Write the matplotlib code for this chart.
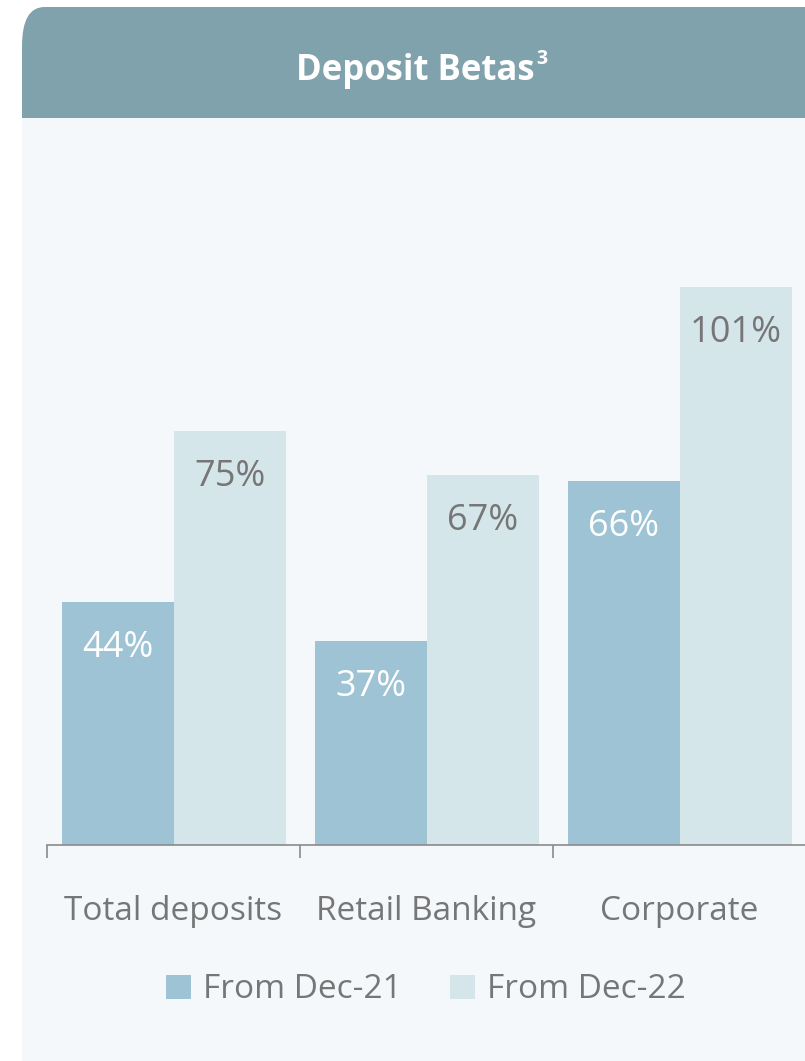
import matplotlib
matplotlib.use("Agg")
import matplotlib.pyplot as plt
from matplotlib.patches import FancyBboxPatch, Rectangle, Patch
import numpy as np

# ---- data ----
categories = ["Total deposits", "Retail Banking", "Corporate"]
series_names = ["From Dec-21", "From Dec-22"]
from_dec21 = [44, 37, 66]
from_dec22 = [75, 67, 101]
title = "Deposit Betas"
title_sup = "3"

# ---- style ----
W, H = 805, 1061
HEADER_C = "#80A2AC"
BODY_C = "#F4F8FB"
DARK_C = "#9DC3D4"
LIGHT_C = "#D5E6EB"
TEXT_C = "#767676"
AXIS_C = "#8A8A8A"
FONT = ["Open Sans", "DejaVu Sans"]
plt.rcParams["font.family"] = FONT

fig = plt.figure(figsize=(W / 100, H / 100), dpi=100)
fig.patch.set_facecolor("white")

def fx(px):
    return px / W

def fy(py):
    return 1 - py / H

# panel header (rounded top) and body
header = FancyBboxPatch((fx(22), fy(160)), fx(900) - fx(22), fy(7) - fy(160),
                        boxstyle="round,pad=0,rounding_size=0.028",
                        transform=fig.transFigure, facecolor=HEADER_C,
                        edgecolor="none", zorder=-10, mutation_aspect=H / W)
fig.patches.append(header)
body = Rectangle((fx(22), fy(1200)), fx(900) - fx(22), fy(118) - fy(1200),
                 transform=fig.transFigure, facecolor=BODY_C,
                 edgecolor="none", zorder=-9)
fig.patches.append(body)

# title
t = fig.text(fx(296), fy(80), title, color="white",
             fontsize=25, fontweight="bold", ha="left", va="baseline")
fig.canvas.draw()
bb = t.get_window_extent()
fig.text(bb.x1 / W + fx(2), fy(64), title_sup, color="white",
         fontsize=14, fontweight="bold", ha="left", va="baseline")

# axes
ax_top_px = 150
ax_bottom_px = 845
px_per_unit = 5.52
ax = fig.add_axes([fx(47), fy(ax_bottom_px), (806 - 47) / W,
                   (ax_bottom_px - ax_top_px) / H])
ax.set_facecolor("none")
ax.set_xlim(-0.5, len(categories) - 0.5)
ax.set_ylim(0, (ax_bottom_px - ax_top_px) / px_per_unit)

x = np.arange(len(categories))
bw = 112 / 253
b1 = ax.bar(x - bw / 2, from_dec21, width=bw, color=DARK_C, linewidth=0, zorder=2)
b2 = ax.bar(x + bw / 2, from_dec22, width=bw, color=LIGHT_C, linewidth=0, zorder=2)

off = -55 * 72 / 100
for bars, vals, col in ((b1, from_dec21, "white"), (b2, from_dec22, TEXT_C)):
    for rect, v in zip(bars, vals):
        ax.annotate(f"{v}%", xy=(rect.get_x() + rect.get_width() / 2, v),
                    xytext=(0, off), textcoords="offset points",
                    ha="center", va="baseline", fontsize=26, color=col, zorder=3)

for s in ("top", "right", "left"):
    ax.spines[s].set_visible(False)
ax.spines["bottom"].set_color(AXIS_C)
ax.spines["bottom"].set_linewidth(1.2)
ax.spines["bottom"].set_zorder(4)
ax.set_yticks([])
ax.set_xticks(np.arange(len(categories) + 1) - 0.5)
ax.set_xticklabels([])
ax.tick_params(axis="x", which="major", length=13 * 0.72, width=1.2,
               color=AXIS_C, direction="out")
ax.set_xticks(x, minor=True)
ax.set_xticklabels(categories, minor=True, fontsize=24, color=TEXT_C)
ax.tick_params(axis="x", which="minor", length=0, pad=36)

handles = [Patch(facecolor=DARK_C, edgecolor="none", label=series_names[0]),
           Patch(facecolor=LIGHT_C, edgecolor="none", label=series_names[1])]
leg = fig.legend(handles=handles, loc="center", bbox_to_anchor=(fx(426), fy(990)),
                 ncol=2, frameon=False, fontsize=24, handlelength=0.75,
                 handleheight=0.75, handletextpad=0.36, columnspacing=1.44,
                 borderpad=0, borderaxespad=0)
for txt in leg.get_texts():
    txt.set_color(TEXT_C)

fig.savefig("out.png", dpi=100, facecolor="white")
